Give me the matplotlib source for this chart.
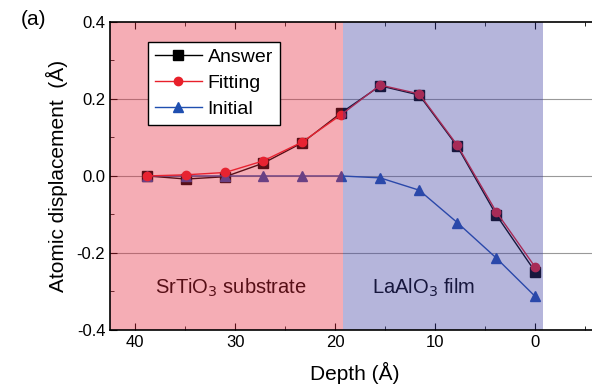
import numpy as np
import matplotlib
matplotlib.use("Agg")
import matplotlib.pyplot as plt
from matplotlib.ticker import MultipleLocator

plt.rcParams['font.family'] = ['Liberation Sans', 'DejaVu Sans']

# data (depth in Angstrom, displacement in Angstrom)
depth = [38.8, 34.9, 31.0, 27.2, 23.3, 19.4, 15.5, 11.6, 7.8, 3.9, 0.0]
answer = [0.0, -0.008, -0.002, 0.033, 0.086, 0.164, 0.234, 0.210, 0.077, -0.101, -0.249]
fitting = [0.0, 0.003, 0.009, 0.039, 0.088, 0.159, 0.236, 0.213, 0.080, -0.093, -0.237]
initial = [0.0, 0.0, 0.0, 0.0, 0.0, 0.0, -0.005, -0.037, -0.121, -0.213, -0.313]

substrate_span = (42.5, 19.2)
film_span = (19.2, -0.8)

fig = plt.figure(figsize=(5.92, 3.91), dpi=100)
# right edge of the axes sits just past the figure edge, like the original
ax = fig.add_axes([0.186, 0.156, 0.828, 0.788])

# horizontal guide lines
for yv in [0.2, 0.0, -0.2]:
    ax.axhline(yv, color='#999999', lw=0.8, zorder=1)

ax.plot(depth, answer, '-s', color='black', ms=7, lw=1, label='Answer', zorder=2)
ax.plot(depth, fitting, '-o', color='#e8202a', ms=6, lw=1, label='Fitting', zorder=3)
ax.plot(depth, initial, '-^', color='#1f4fb0', ms=7, lw=1, label='Initial', zorder=2)

ax.text(38.0, -0.29, 'SrTiO$_3$ substrate', fontsize=14.5, color='black', va='center', zorder=2)
ax.text(16.3, -0.29, 'LaAlO$_3$ film', fontsize=14.5, color='black', va='center', zorder=2)

# shaded regions drawn over the data
ax.axvspan(*substrate_span, color=(0.90, 0.16, 0.24), alpha=0.38, lw=0, zorder=5)
ax.axvspan(*film_span, color=(0.24, 0.24, 0.63), alpha=0.38, lw=0, zorder=5)

ax.set_xlim(42.5, -6.5)
ax.set_ylim(-0.4, 0.4)
ax.xaxis.set_major_locator(MultipleLocator(10))
ax.xaxis.set_minor_locator(MultipleLocator(5))
ax.yaxis.set_major_locator(MultipleLocator(0.2))
ax.yaxis.set_minor_locator(MultipleLocator(0.1))
ax.yaxis.set_major_formatter(matplotlib.ticker.FormatStrFormatter('%.1f'))
ax.tick_params(which='both', direction='in', top=True, right=True, labelsize=12)
ax.tick_params(which='major', length=5)
ax.tick_params(which='minor', length=3)
for s in ax.spines.values():
    s.set_linewidth(1.2)
    s.set_zorder(6)

ax.set_xlabel('Depth (Å)', fontsize=15, labelpad=9)
ax.set_ylabel('Atomic displacement  (Å)', fontsize=15, labelpad=6)

leg = ax.legend(loc='upper left', bbox_to_anchor=(0.058, 0.967), fontsize=14,
                fancybox=False, edgecolor='black', framealpha=1,
                handlelength=2.4, borderpad=0.35, labelspacing=0.42, handletextpad=0.3)
leg.set_zorder(10)
leg.get_frame().set_linewidth(1.0)

fig.text(0.035, 0.935, '(a)', fontsize=15)

fig.savefig('out.png', dpi=100)
